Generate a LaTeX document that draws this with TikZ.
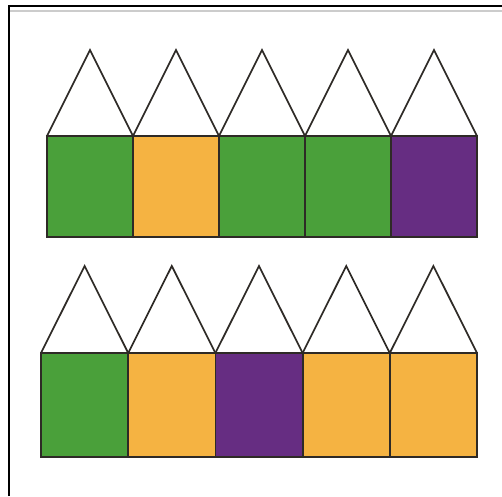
\documentclass[tikz,border=0pt]{standalone}
\definecolor{gr}{HTML}{4AA03A}
\definecolor{og}{HTML}{F5B342}
\definecolor{pu}{HTML}{662D82}
\definecolor{ln}{HTML}{2E2A26}
\tikzset{
  sq/.style={draw=ln, line width=1.8pt, line join=miter},
  tri/.style={draw=ln, line width=1.7pt, line join=miter, fill=white},
}
\begin{document}
\begin{tikzpicture}[x=1pt,y=-1pt]
\useasboundingbox (0,0) rectangle (502,496);
\fill[white] (0,0) rectangle (502,496);
% frame
\draw[black, line width=2pt] (9,496) -- (9,6) -- (502,6);
\draw[gray!40, line width=1.5pt] (10,11) -- (502,11);
% row 1
\foreach \c [count=\i from 0] in {gr,og,gr,gr,pu} {
  \pgfmathsetmacro{\xa}{47+86*\i}
  \pgfmathsetmacro{\xb}{47+86*(\i+1)}
  \pgfmathsetmacro{\xm}{47+86*(\i+0.5)}
  \draw[tri] (\xa,136) -- (\xm,50) -- (\xb,136);
  \filldraw[sq, fill=\c] (\xa,136) rectangle (\xb,237);
}
% row 2
\foreach \c [count=\i from 0] in {gr,og,pu,og,og} {
  \pgfmathsetmacro{\xa}{41+87.2*\i}
  \pgfmathsetmacro{\xb}{41+87.2*(\i+1)}
  \pgfmathsetmacro{\xm}{41+87.2*(\i+0.5)}
  \draw[tri] (\xa,353) -- (\xm,266) -- (\xb,353);
  \filldraw[sq, fill=\c] (\xa,353) rectangle (\xb,457);
}
\end{tikzpicture}
\end{document}
